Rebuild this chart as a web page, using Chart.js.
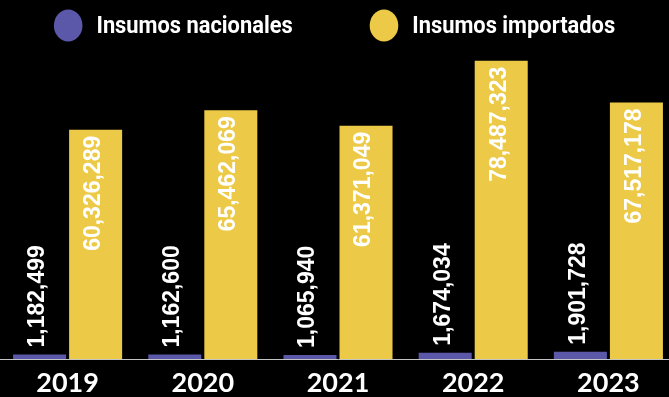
<!DOCTYPE html>
<html lang="es">
<head>
<meta charset="utf-8">
<script src="https://cdn.jsdelivr.net/npm/chart.js@4.4.1/dist/chart.umd.min.js"></script>
<style>
  html, body { margin: 0; padding: 0; background: #000; overflow: hidden; }
  #wrap { position: relative; width: 676px; height: 397px; }
</style>
</head>
<body>
<div id="wrap"><canvas id="chart"></canvas></div>
<script>
// Años y valores por tipo de insumo
const years = ['2019', '2020', '2021', '2022', '2023'];
const nacionales = [1182499, 1162600, 1065940, 1674034, 1901728];
const importados = [60326289, 65462069, 61371049, 78487323, 67517178];
const seriesNames = ['Insumos nacionales', 'Insumos importados'];
const seriesColors = ['#5B58AA', '#ECCA48'];
const yMax = 80000000;

const fmt = v => v.toLocaleString('en-US');

// Fondo negro del lienzo
const background = {
  id: 'background',
  beforeDraw(chart) {
    const { ctx, width, height } = chart;
    ctx.save();
    ctx.fillStyle = '#000';
    ctx.fillRect(0, 0, width, height);
    ctx.restore();
  }
};

// Leyenda en una fila: óvalo de color + nombre de la serie, centrada en la ventana
const legendRow = {
  id: 'legendRow',
  afterDraw(chart) {
    const { ctx } = chart;
    const viewW = Math.min(chart.width, window.innerWidth);
    const rx = 14.3, ry = 16, gapText = 14, gapItems = 77, cy = 25.5, squeeze = 0.95;
    ctx.save();
    ctx.font = "bold 23px Roboto, 'DejaVu Sans', sans-serif";
    ctx.textBaseline = 'middle';
    const items = chart.data.datasets.map(ds => ({
      label: ds.label, color: ds.backgroundColor, w: ctx.measureText(ds.label).width * squeeze
    }));
    const total = items.reduce((s, it) => s + 2 * rx + gapText + it.w, 0) + gapItems * (items.length - 1);
    let x = (viewW - total) / 2;
    items.forEach(it => {
      ctx.fillStyle = it.color;
      ctx.beginPath();
      ctx.ellipse(x + rx, cy, rx, ry, 0, 0, Math.PI * 2);
      ctx.fill();
      ctx.fillStyle = '#fff';
      ctx.save();
      ctx.translate(x + 2 * rx + gapText, cy + 1.5);
      ctx.scale(squeeze, 1);
      ctx.fillText(it.label, 0, 0);
      ctx.restore();
      x += 2 * rx + gapText + it.w + gapItems;
    });
    ctx.restore();
  }
};

// Valores rotados: encima de la barra pequeña, dentro de la barra alta
const barValues = {
  id: 'barValues',
  afterDatasetsDraw(chart) {
    const { ctx } = chart;
    ctx.save();
    ctx.font = "bold 23px 'Liberation Sans', Arial, sans-serif";
    ctx.fillStyle = '#fff';
    ctx.textBaseline = 'middle';
    chart.data.datasets.forEach((ds, di) => {
      const meta = chart.getDatasetMeta(di);
      meta.data.forEach((bar, i) => {
        const txt = fmt(ds.data[i]);
        ctx.save();
        ctx.translate(bar.x - 2, bar.y + (di === 0 ? -7 : 6));
        ctx.rotate(-Math.PI / 2);
        ctx.textAlign = di === 0 ? 'left' : 'right';
        ctx.fillText(txt, 0, 0);
        ctx.restore();
      });
    });
    ctx.restore();
  }
};

new Chart(document.getElementById('chart'), {
  type: 'bar',
  data: {
    labels: years,
    datasets: [
      { label: seriesNames[0], data: nacionales, backgroundColor: seriesColors[0] },
      { label: seriesNames[1], data: importados, backgroundColor: seriesColors[1] }
    ]
  },
  options: {
    responsive: true,
    maintainAspectRatio: false,
    animation: false,
    devicePixelRatio: 1,
    layout: { padding: { top: 55, left: 0, right: 0, bottom: -11 } },
    datasets: {
      bar: { categoryPercentage: 0.829, barPercentage: 0.946 }
    },
    plugins: {
      legend: { display: false },
      tooltip: { enabled: false }
    },
    scales: {
      x: {
        grid: { display: false, drawTicks: false },
        border: { display: true, color: '#C4C4C4', width: 1 },
        ticks: {
          color: '#fff',
          padding: 11,
          maxRotation: 0,
          font: { family: "Lato, 'Open Sans', sans-serif", weight: 'bold', size: 27, lineHeight: 1 }
        }
      },
      y: {
        display: false,
        min: 0,
        max: yMax
      }
    }
  },
  plugins: [background, legendRow, barValues]
});
</script>
</body>
</html>
